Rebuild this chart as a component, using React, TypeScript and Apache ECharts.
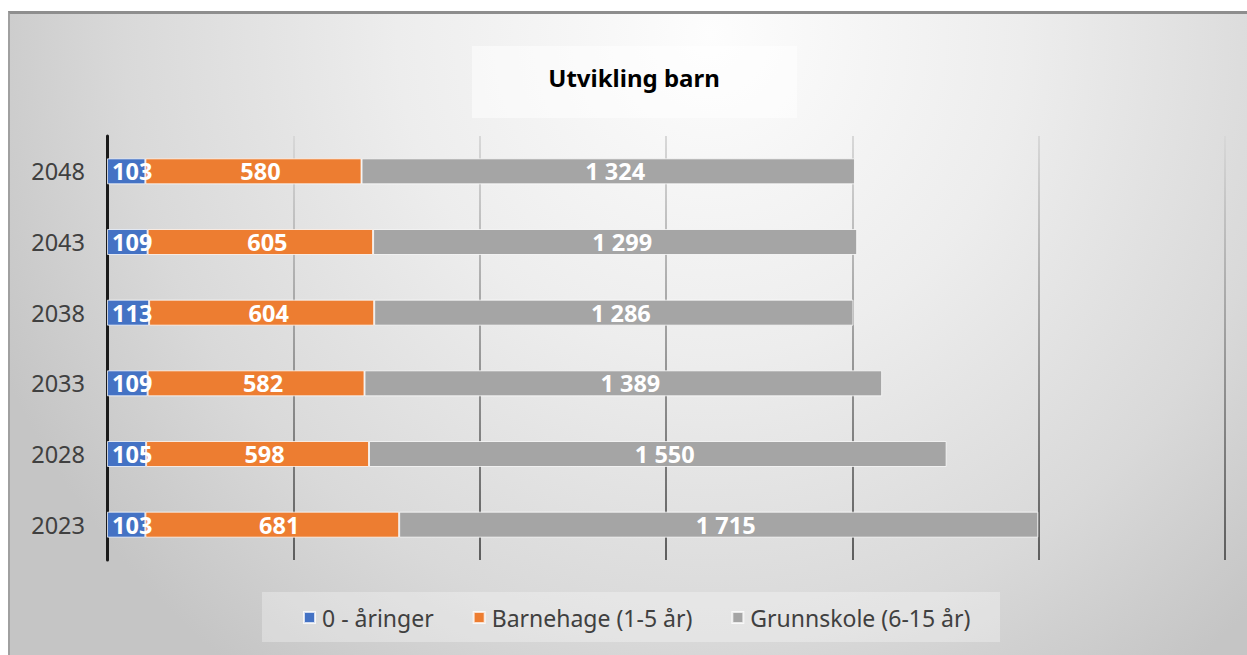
import React, { useEffect, useRef } from 'react';
import * as echarts from 'echarts';

const years = ['2023', '2028', '2033', '2038', '2043', '2048'];
const aringer = [103, 105, 109, 113, 109, 103];
const barnehage = [681, 598, 582, 604, 605, 580];
const grunnskole = [1715, 1550, 1389, 1286, 1299, 1324];
const seriesNames = ['0 - åringer', 'Barnehage (1-5 år)', 'Grunnskole (6-15 år)'];
const colors = ['#4472C4', '#ED7D31', '#A5A5A5'];
const titleText = 'Utvikling barn';
const xMax = 3000;
const xStep = 500;

const FONT = '"Noto Sans", sans-serif';

const fmt = (v: number) => String(v).replace(/\B(?=(\d{3})+(?!\d))/g, ' ');

export default function App() {
  const ref = useRef<HTMLDivElement>(null);
  useEffect(() => {
    const chart = echarts.init(ref.current!, null, { renderer: 'svg' });
    const gridGrad = new echarts.graphic.LinearGradient(
      0, 136, 0, 560,
      [
        { offset: 0, color: '#d8d8d8' },
        { offset: 1, color: '#5e5e5e' },
      ],
      true
    );
    const seriesData = [aringer, barnehage, grunnskole];
    chart.setOption({
      animation: false,
      backgroundColor: 'transparent',
      textStyle: { fontFamily: FONT },
      grid: { left: 107, right: 22, top: 136, bottom: 95, containLabel: false },
      xAxis: {
        type: 'value',
        min: 0,
        max: xMax,
        interval: xStep,
        axisLabel: { show: false },
        axisLine: { show: false },
        axisTick: { show: false },
        splitLine: { show: true, lineStyle: { color: gridGrad, width: 2 } },
      },
      yAxis: {
        type: 'category',
        data: years,
        axisLine: { show: true, lineStyle: { color: '#1a1a1a', width: 3 } },
        axisTick: { show: false },
        axisLabel: { color: '#404040', fontSize: 23.5, fontFamily: FONT, margin: 22 },
      },
      legend: {
        left: 298,
        top: 601,
        itemWidth: 11,
        itemHeight: 11,
        itemGap: 39,
        icon: 'rect',
        textStyle: { color: '#404040', fontSize: 23, fontFamily: FONT, padding: [0, 0, 0, 2] },
        data: seriesNames,
      },
      graphic: [
        {
          type: 'rect',
          z: -10,
          shape: { x: 472, y: 46, width: 325, height: 72 },
          style: { fill: 'rgba(255,255,255,0.5)' },
          silent: true,
        },
        {
          type: 'rect',
          z: -10,
          shape: { x: 262, y: 592, width: 738, height: 50 },
          style: { fill: 'rgba(255,255,255,0.3)' },
          silent: true,
        },
        {
          type: 'text',
          z: 10,
          x: 634,
          y: 77,
          style: {
            text: titleText,
            font: 'bold 24px "Noto Sans", sans-serif',
            fill: '#000000',
            textAlign: 'center',
            textVerticalAlign: 'middle',
          },
        },
      ],
      series: seriesNames.map((name, i) => ({
        name,
        type: 'bar',
        stack: 'total',
        barWidth: 26,
        data: seriesData[i],
        itemStyle: { color: colors[i], borderColor: 'rgba(255,255,255,0.75)', borderWidth: 1 },
        label: {
          show: true,
          position: i === 0 ? 'insideLeft' : 'inside',
          distance: 5,
          offset: i === 0 ? [0, 0] : [7, 0],
          color: '#ffffff',
          fontWeight: 'bold',
          fontSize: 23.5,
          fontFamily: FONT,
          formatter: (p: any) => fmt(p.value),
        },
      })),
    });
    return () => chart.dispose();
  }, []);
  return (
    <div style={{ position: 'absolute', left: 0, top: 0, width: 1247, height: 655, background: '#ffffff', overflow: 'hidden' }}>
      <div
        style={{
          position: 'absolute',
          left: 8,
          top: 11,
          width: 1260,
          height: 660,
          boxSizing: 'border-box',
          borderTop: '3px solid #8e8e8e',
          borderLeft: '2px solid #a0a0a0',
          background: 'radial-gradient(ellipse 780px 800px at 700px 20px, #fdfdfd 0%, #ededed 40%, #d9d9d9 75%, #c5c5c5 100%)',
        }}
      />
      <div ref={ref} style={{ position: 'absolute', left: 0, top: 0, width: 1247, height: 655 }} />
    </div>
  );
}
